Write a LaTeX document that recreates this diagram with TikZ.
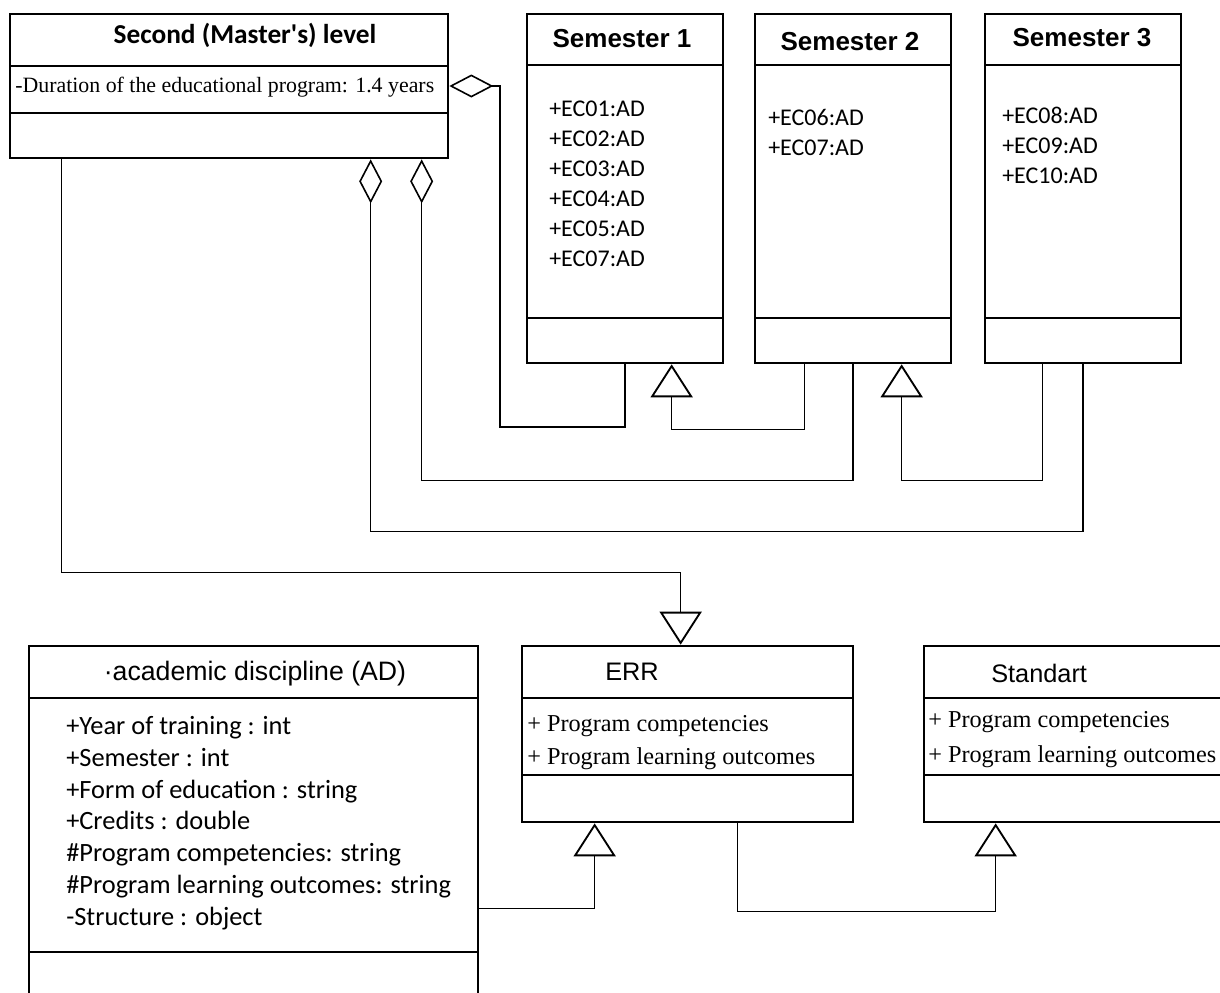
\documentclass[tikz,border=0pt]{standalone}
\usepackage{fontspec}
\setmainfont{Liberation Serif}
\newfontfamily\calfont{Carlito}
\newfontfamily\arialfont{Liberation Sans}
\usetikzlibrary{fit,arrows.meta,calc}
\tikzset{
  box/.style={draw, line width=2pt, inner sep=0pt, rectangle},
  divider/.style={line width=2pt},
  conn/.style={line width=0.8pt},
  gen/.style={conn, -{Triangle[open, length=24.75pt, width=31.5pt, line width=1.4pt]}},
  aggr/.style={conn, {Diamond[open, length=33pt, width=17.25pt, line width=1.2pt]}-},
  txt/.style={inner sep=0pt, anchor=west, align=left},
}
\begin{document}
\begin{tikzpicture}[x=0.75pt, y=-0.75pt]
\useasboundingbox (0,0) rectangle (1220,992);
\clip (0,0) rectangle (1220,992);
% boxes
\node[box, fit={(10,14) (448,158)}] (master) {};
\draw[divider] (10,66) -- (448,66) (10,113) -- (448,113);
\node[box, fit={(527,14) (723,363)}] (sem1) {};
\draw[divider] (527,65) -- (723,65) (527,318) -- (723,318);
\node[box, fit={(755,14) (951,363)}] (sem2) {};
\draw[divider] (755,65) -- (951,65) (755,318) -- (951,318);
\node[box, fit={(985,14) (1181,363)}] (sem3) {};
\draw[divider] (985,65) -- (1181,65) (985,318) -- (1181,318);
\node[box, fit={(29,646) (478,1010)}] (ad) {};
\draw[divider] (29,698) -- (478,698) (29,952) -- (478,952);
\node[box, fit={(522,646) (853,822)}] (err) {};
\draw[divider] (522,698) -- (853,698) (522,775) -- (853,775);
\node[box, fit={(924,646) (1240,822)}] (std) {};
\draw[divider] (924,698) -- (1240,698) (924,775) -- (1240,775);
% texts
\node[inner sep=0pt] (mastertitle) at (245,35) {\calfont\bfseries\fontsize{20.5}{24}\selectfont Second (Master's) level};
\node[txt] (masterattr) at (15,87) {\fontsize{16.4}{20}\selectfont -Duration of the educational program: 1.4 years};
\node[inner sep=0pt] (sem1title) at (622,39) {\arialfont\bfseries\fontsize{19.5}{23}\selectfont Semester 1};
\node[inner sep=0pt] (sem2title) at (850,42) {\arialfont\bfseries\fontsize{19.5}{23}\selectfont Semester 2};
\node[inner sep=0pt] (sem3title) at (1082,38) {\arialfont\bfseries\fontsize{19.5}{23}\selectfont Semester 3};
\node[txt, font=\calfont\fontsize{18}{22.5}\selectfont] (sem1attr) at (549,184) {+EC01:AD\\+EC02:AD\\+EC03:AD\\+EC04:AD\\+EC05:AD\\+EC07:AD};
\node[txt, font=\calfont\fontsize{18}{22.5}\selectfont] (sem2attr) at (768,132) {+EC06:AD\\+EC07:AD};
\node[txt, font=\calfont\fontsize{18}{22.5}\selectfont] (sem3attr) at (1002,145) {+EC08:AD\\+EC09:AD\\+EC10:AD};
\node[inner sep=0pt] (adtitle) at (255,674) {\arialfont\fontsize{20}{24}\selectfont ·academic discipline (AD)};
\node[txt, font=\calfont\fontsize{19.8}{23.8}\selectfont] (adattr) at (66,823) {+Year of training : int\\+Semester : int\\+Form of education : string\\+Credits : double\\\#Program competencies: string\\\#Program learning outcomes: string\\-Structure : object};
\node[txt] (errtitle) at (605,672) {\arialfont\fontsize{19}{23}\selectfont ERR};
\node[txt, font=\fontsize{18.2}{24.75}\selectfont] (errattr) at (527,743) {+ Program competencies\\+ Program learning outcomes};
\node[txt] (stdtitle) at (991,673) {\arialfont\fontsize{19}{23}\selectfont Standart};
\node[txt, font=\fontsize{18.2}{26.25}\selectfont] (stdattr) at (928,740) {+ Program competencies\\+ Program learning outcomes};
% connectors
\draw[aggr] (master.east) -| (500,427) -| (sem1.south);
\draw[aggr] ($(master.south west)+(362,0)$) -- ++(0,372) -| (sem3.south);
\draw[aggr] ($(master.south west)+(413,0)$) -- ++(0,321) -| (sem2.south);
\draw[gen] ($(sem2.south west)+(51,0)$) -- ++(0,65) -| ($(sem1.south west)+(146,0)$);
\draw[gen] ($(sem3.south west)+(59,0)$) -- ++(0,116) -| ($(sem2.south west)+(148,0)$);
\draw[gen] ($(master.south west)+(53,0)$) -- ++(0,413) -| ($(err.north west)+(160,0)$);
\draw[gen] ($(ad.north east)+(0,264)$) -| ($(err.south west)+(74,0)$);
\draw[gen] ($(err.south west)+(217,0)$) -- ++(0,88) -| ($(std.south west)+(73,0)$);
\end{tikzpicture}
\end{document}
